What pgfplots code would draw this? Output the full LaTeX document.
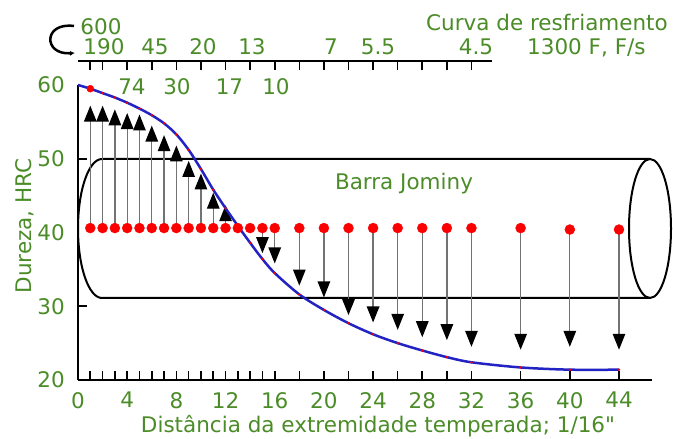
\documentclass[border=0pt]{standalone}
\usepackage{fontspec}
\setmainfont{DejaVu Sans}[Ligatures=TeXOff]
\usepackage{pgfplots}
\usepackage{pgfplotstable}
\pgfplotsset{compat=1.18}
\usetikzlibrary{arrows.meta}

\definecolor{lblgreen}{RGB}{75,140,40}
\definecolor{curveblue}{RGB}{35,35,195}
\definecolor{dotred}{RGB}{250,0,0}
\newcommand\lbl{\fontsize{21.5bp}{25bp}\selectfont}

% Jominy hardness curve (HRC vs distance in 1/16 in)
\pgfplotstableread{
x hrc
0 60.0
1 59.5
2 58.9
3 58.3
4 57.6
5 56.8
6 55.9
7 54.8
8 53.3
9 51.2
10 48.6
11 45.8
12 43.3
13 40.9
14 38.6
15 36.4
16 34.5
18 31.6
20 29.5
22 27.7
24 26.2
26 25.0
28 24.0
30 23.1
32 22.4
36 21.7
40 21.4
44 21.4
}\jominycurve

% probe positions along the bar
\pgfplotstableread{
x y
1 40.6
2 40.6
3 40.6
4 40.6
5 40.6
6 40.6
7 40.6
8 40.6
9 40.6
10 40.6
11 40.6
12 40.6
13 40.6
14 40.6
15 40.6
16 40.6
18 40.6
20 40.6
22 40.6
24 40.6
26 40.6
28 40.6
30 40.6
32 40.6
36 40.6
40 40.4
44 40.4
}\probes

% arrows from each probe to the measured hardness
\pgfplotstableread{
x base tip
1 40.6 57.2
2 40.6 57.2
3 40.6 56.7
4 40.6 56.2
5 40.6 56.0
6 40.6 54.5
7 40.6 53.2
8 40.6 51.8
9 40.6 49.7
10 40.6 48.0
11 40.6 45.4
12 40.6 43.7
15 40.6 37.2
16 40.6 35.8
18 40.6 32.8
20 40.6 31.2
22 40.6 28.8
24 40.6 27.8
26 40.6 26.8
28 40.6 25.8
30 40.6 25.4
32 40.6 24.5
36 40.6 24.1
40 40.4 24.5
44 40.4 24.1
}\hardarrows

\begin{document}
\begin{tikzpicture}[lbl/.style={font=\lbl, text=lblgreen, inner sep=0pt}]
\path[use as bounding box] (0,0) rectangle (673bp,439bp);

% the Jominy bar drawn behind the data
\draw[line width=2bp] (650bp,280bp) -- (102bp,280bp)
  arc[start angle=90, end angle=270, x radius=24bp, y radius=69.5bp]
  -- (650bp,141bp);
\draw[line width=2bp] (650bp,210.5bp) ellipse[x radius=21bp, y radius=69.5bp];

\begin{axis}[
  at={(78bp,59bp)}, anchor=south west,
  scale only axis, width=574.2bp, height=295bp,
  xmin=0, xmax=46.7, ymin=20, ymax=60,
  axis x line*=bottom, axis y line*=left,
  axis line style={line width=2.2bp, black},
  clip=false,
  tick align=inside,
  tick style={line width=1.6bp, black},
  xtick={0,4,...,44},
  minor xtick={1,2,3,5,6,7,9,10,11,13,14,15,18,22,26,30},
  major tick length=9bp, minor tick length=9bp,
  ytick={30,50},
  extra y ticks={20,40,60},
  extra y tick style={major tick length=0pt},
  /pgf/number format/assume math mode=true,
  xticklabel style={font=\lbl, text=lblgreen, anchor=north, inner sep=0pt, yshift=-12bp},
  yticklabel style={font=\lbl, text=lblgreen, anchor=east, inner sep=0pt, xshift=-13bp},
]
\addplot[draw=black!55, line width=1.3bp,
  quiver={u=0, v=\thisrow{tip}-\thisrow{base}},
  -{Triangle[width=12.5bp,length=16bp,color=black]}]
  table[x=x, y=base] {\hardarrows};
\addplot[only marks, mark=*, mark size=5bp, color=dotred] table[x=x, y=y] {\probes};
\addplot[only marks, mark=*, mark size=3.5bp, color=dotred] coordinates {(1,59.5)};
\addplot[curveblue, line width=2.5bp, smooth, tension=0.5] table[x=x, y=hrc] {\jominycurve};
\addplot[only marks, mark=*, mark size=1bp, color=dotred, skip coords between index={0}{1}]
  table[x=x, y=hrc] {\jominycurve};
\end{axis}

% cooling-rate scale at 1300 F
\draw[line width=2.2bp] (78bp,378bp) -- (492bp,378bp);
\foreach \t in {1,2,4,6,...,32}
  \draw[line width=1.6bp] ({(78+12.295*\t)*1bp},378bp) -- ++(0,-9bp);
\node[lbl, anchor=base] at (101bp,404bp) {600};
\node[lbl, anchor=base] at (104bp,384bp) {190};
\node[lbl, anchor=base] at (155bp,384bp) {45};
\node[lbl, anchor=base] at (203bp,384bp) {20};
\node[lbl, anchor=base] at (252bp,384bp) {13};
\node[lbl, anchor=base] at (331bp,384bp) {7};
\node[lbl, anchor=base] at (378bp,384bp) {5.5};
\node[lbl, anchor=base] at (476bp,384bp) {4.5};
\node[lbl, anchor=base] at (132bp,344bp) {74};
\node[lbl, anchor=base] at (177bp,344bp) {30};
\node[lbl, anchor=base] at (229.5bp,344bp) {17};
\node[lbl, anchor=base] at (276bp,344bp) {10};
\draw[line width=2.5bp, -{Latex[length=5bp,width=5bp]}]
  (74bp,413bp) .. controls (43bp,417bp) and (43bp,384bp) .. (75bp,386bp);
\node[lbl, anchor=base east] at (668bp,408bp) {Curva de resfriamento};
\node[lbl, anchor=base west] at (527bp,384bp) {1300 F, F/s};

\node[lbl, anchor=base] at (404bp,249bp) {Barra Jominy};
\node[lbl, anchor=base] at (378bp,7bp) {Distância da extremidade temperada; 1/16"};
\node[lbl, anchor=base, rotate=90] at (31bp,213bp) {Dureza, HRC};
\end{tikzpicture}
\end{document}
